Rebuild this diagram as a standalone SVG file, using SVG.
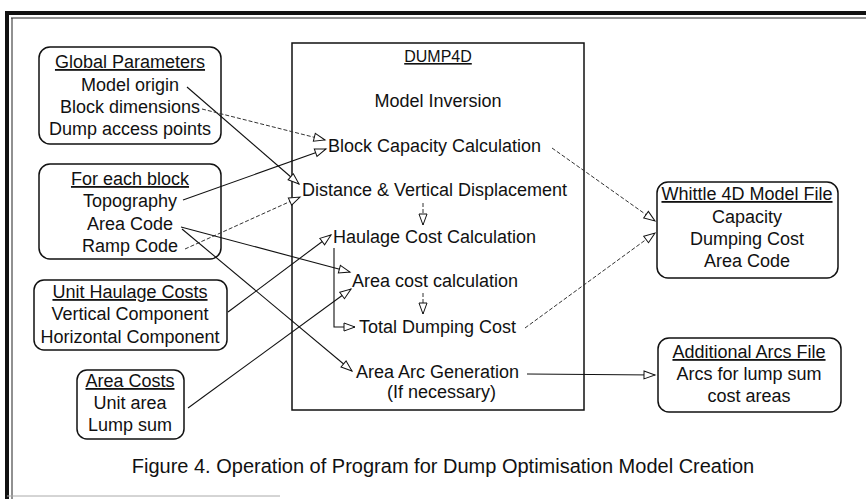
<svg xmlns="http://www.w3.org/2000/svg" width="866" height="499" viewBox="0 0 866 499">
<style>
text{font-family:"Liberation Sans",Arial,sans-serif;font-size:18px;fill:#111}
.c{text-anchor:middle}
.u{text-decoration:underline}
.box{fill:#fff;stroke:#111;stroke-width:1.5}
.ln{fill:none;stroke:#111;stroke-width:1.1}
.ds{fill:none;stroke:#333;stroke-width:1;stroke-dasharray:4 2}
</style>
<defs>
<marker id="ah" viewBox="-1 -1 13 10" refX="11" refY="4" markerWidth="13" markerHeight="10" markerUnits="userSpaceOnUse" orient="auto" overflow="visible">
<path d="M0,0 L11,4 L0,8 Z" fill="#fff" stroke="#111" stroke-width="1"/>
</marker>
</defs>
<rect width="866" height="499" fill="#fff"/>
<g id="frame">
<line x1="5" y1="13" x2="866" y2="13" stroke="#111" stroke-width="4"/>
<line x1="7" y1="11" x2="7" y2="499" stroke="#111" stroke-width="4"/>
<line x1="11" y1="18" x2="866" y2="18" stroke="#222" stroke-width="1"/>
<line x1="12" y1="18" x2="12" y2="499" stroke="#222" stroke-width="1"/>
<line x1="7" y1="496" x2="280" y2="496" stroke="#aaa" stroke-width="1"/>
</g>
<g id="dump4d">
<rect x="292" y="43" width="292" height="367" fill="none" stroke="#111" stroke-width="1.5"/>
<text x="438" y="62" class="c u" style="font-size:16px">DUMP4D</text>
<text x="438" y="107" class="c">Model Inversion</text>
<text x="328" y="152">Block Capacity Calculation</text>
<text x="302" y="196">Distance &amp; Vertical Displacement</text>
<text x="333" y="243">Haulage Cost Calculation</text>
<text x="352" y="287">Area cost calculation</text>
<text x="359" y="333">Total Dumping Cost</text>
<text x="356" y="378">Area Arc Generation</text>
<text x="387" y="398">(If necessary)</text>
</g>
<g id="global">
<rect class="box" x="39" y="47" width="182" height="97" rx="11"/>
<text x="130" y="68" class="c u">Global Parameters</text>
<text x="130" y="91" class="c">Model origin</text>
<text x="130" y="113" class="c">Block dimensions</text>
<text x="130" y="135" class="c">Dump access points</text>
</g>
<g id="eachblock">
<rect class="box" x="39" y="164" width="182" height="95" rx="11"/>
<text x="130" y="185" class="c u">For each block</text>
<text x="130" y="207" class="c">Topography</text>
<text x="130" y="230" class="c">Area Code</text>
<text x="130" y="252" class="c">Ramp Code</text>
</g>
<g id="haulage">
<rect class="box" x="34" y="280" width="193" height="70" rx="10"/>
<text x="130" y="298" class="c u">Unit Haulage Costs</text>
<text x="130" y="320" class="c">Vertical Component</text>
<text x="130" y="343" class="c">Horizontal Component</text>
</g>
<g id="areacosts">
<rect class="box" x="77" y="370" width="107" height="69" rx="10"/>
<text x="130" y="387" class="c u">Area Costs</text>
<text x="130" y="409" class="c">Unit area</text>
<text x="130" y="431" class="c">Lump sum</text>
</g>
<g id="whittle">
<rect class="box" x="657" y="182" width="181" height="96" rx="11"/>
<text x="747" y="200" class="c u">Whittle 4D Model File</text>
<text x="747" y="223" class="c">Capacity</text>
<text x="747" y="245" class="c">Dumping Cost</text>
<text x="747" y="267" class="c">Area Code</text>
</g>
<g id="arcs">
<rect class="box" x="658" y="338" width="183" height="74" rx="11"/>
<text x="749" y="358" class="c u">Additional Arcs File</text>
<text x="749" y="380" class="c">Arcs for lump sum</text>
<text x="749" y="402" class="c">cost areas</text>
</g>
<g id="connectors">
<line class="ln" x1="187" y1="87" x2="299" y2="184" marker-end="url(#ah)"/>
<line class="ds" x1="202" y1="109" x2="325" y2="140" marker-end="url(#ah)"/>
<line class="ln" x1="183" y1="200" x2="326" y2="149" marker-end="url(#ah)"/>
<line class="ds" x1="185" y1="249" x2="300" y2="197" marker-end="url(#ah)"/>
<line class="ln" x1="181" y1="227" x2="350" y2="272" marker-end="url(#ah)"/>
<line class="ln" x1="182" y1="229" x2="352" y2="371" marker-end="url(#ah)"/>
<line class="ln" x1="228" y1="312" x2="331" y2="235" marker-end="url(#ah)"/>
<line class="ln" x1="188" y1="408" x2="351" y2="289" marker-end="url(#ah)"/>
<line class="ds" x1="552" y1="148" x2="655" y2="221" marker-end="url(#ah)"/>
<line class="ds" x1="525" y1="328" x2="655" y2="233" marker-end="url(#ah)"/>
<line class="ln" x1="527" y1="374" x2="655" y2="375" marker-end="url(#ah)"/>
<line class="ds" x1="423" y1="203" x2="423" y2="225" marker-end="url(#ah)"/>
<line class="ds" x1="423" y1="293" x2="423" y2="314" marker-end="url(#ah)"/>
<polyline class="ln" points="334,248 334,327 355,327" marker-end="url(#ah)"/>
</g>
<text x="443" y="473" class="c" style="font-size:20px">Figure 4. Operation of Program for Dump Optimisation Model Creation</text>
</svg>
